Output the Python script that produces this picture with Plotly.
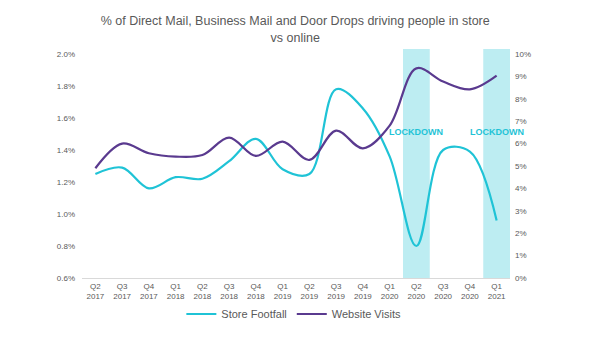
import plotly.graph_objects as go

quarters = ["Q2<br>2017", "Q3<br>2017", "Q4<br>2017", "Q1<br>2018", "Q2<br>2018", "Q3<br>2018",
            "Q4<br>2018", "Q1<br>2019", "Q2<br>2019", "Q3<br>2019", "Q4<br>2019", "Q1<br>2020",
            "Q2<br>2020", "Q3<br>2020", "Q4<br>2020", "Q1<br>2021"]
store_footfall = [1.25, 1.29, 1.16, 1.23, 1.22, 1.33, 1.47, 1.28, 1.25, 1.78, 1.66, 1.36,
                  0.80, 1.40, 1.39, 0.96]
website_visits = [4.9, 6.0, 5.57, 5.42, 5.49, 6.27, 5.45, 6.09, 5.27, 6.58, 5.79, 6.8,
                  9.36, 8.77, 8.42, 9.03]
lockdown_quarters = ["Q2<br>2020", "Q1<br>2021"]

CYAN = "#1fc3d6"
PURPLE = "#5a3a8f"
BAND = "#bdedf2"
GREY = "#595959"

x_idx = list(range(len(quarters)))

fig = go.Figure()
fig.add_trace(go.Scatter(x=x_idx, y=store_footfall, name="Store Footfall", mode="lines",
                         line=dict(color=CYAN, width=2.2, shape="spline", smoothing=1.0),
                         yaxis="y"))
fig.add_trace(go.Scatter(x=x_idx, y=website_visits, name="Website Visits", mode="lines",
                         line=dict(color=PURPLE, width=2.2, shape="spline", smoothing=1.0),
                         yaxis="y2"))

for q in lockdown_quarters:
    i = quarters.index(q)
    fig.add_shape(type="rect", xref="x", yref="paper", x0=i - 0.5, x1=i + 0.5,
                  y0=0, y1=1.022, fillcolor=BAND, line=dict(width=0), layer="below")
    fig.add_annotation(x=i, xref="x", y=6.5, yref="y2", text="<b>LOCKDOWN</b>",
                       showarrow=False, font=dict(family="Liberation Sans, Arial", size=9, color=CYAN))

fig.update_layout(
    width=600, height=338,
    margin=dict(l=82, r=90, t=54, b=60, autoexpand=False),
    paper_bgcolor="white", plot_bgcolor="white",
    font=dict(family="Liberation Sans, Arial", color=GREY, size=8),
    title=dict(text="% of Direct Mail, Business Mail and Door Drops driving people in store<br>vs online",
               x=0.492, xanchor="center", y=0.925, yanchor="top",
               font=dict(size=12.5, color=GREY)),
    xaxis=dict(range=[-0.5, 15.5], tickmode="array", tickvals=x_idx, ticktext=quarters,
               showgrid=False, zeroline=False, showline=True, linecolor="#d9d9d9", linewidth=1,
               ticks="", tickfont=dict(size=8, color=GREY)),
    yaxis=dict(range=[0.6, 2.0], dtick=0.2, tickformat=".1f", ticksuffix="%",
               showgrid=False, zeroline=False, showline=False, ticks="",
               ticklabelstandoff=6, tickfont=dict(size=8, color=GREY)),
    yaxis2=dict(range=[0, 10], dtick=1, ticksuffix="%", overlaying="y", side="right",
                showgrid=False, zeroline=False, showline=False, ticks="",
                ticklabelstandoff=4, tickfont=dict(size=8, color=GREY)),
    legend=dict(orientation="h", x=0.495, xanchor="center", y=0.071, yanchor="middle",
                yref="container", font=dict(size=11, color=GREY), traceorder="normal",
                itemwidth=30),
    showlegend=True,
)

fig.write_html("out.html")
